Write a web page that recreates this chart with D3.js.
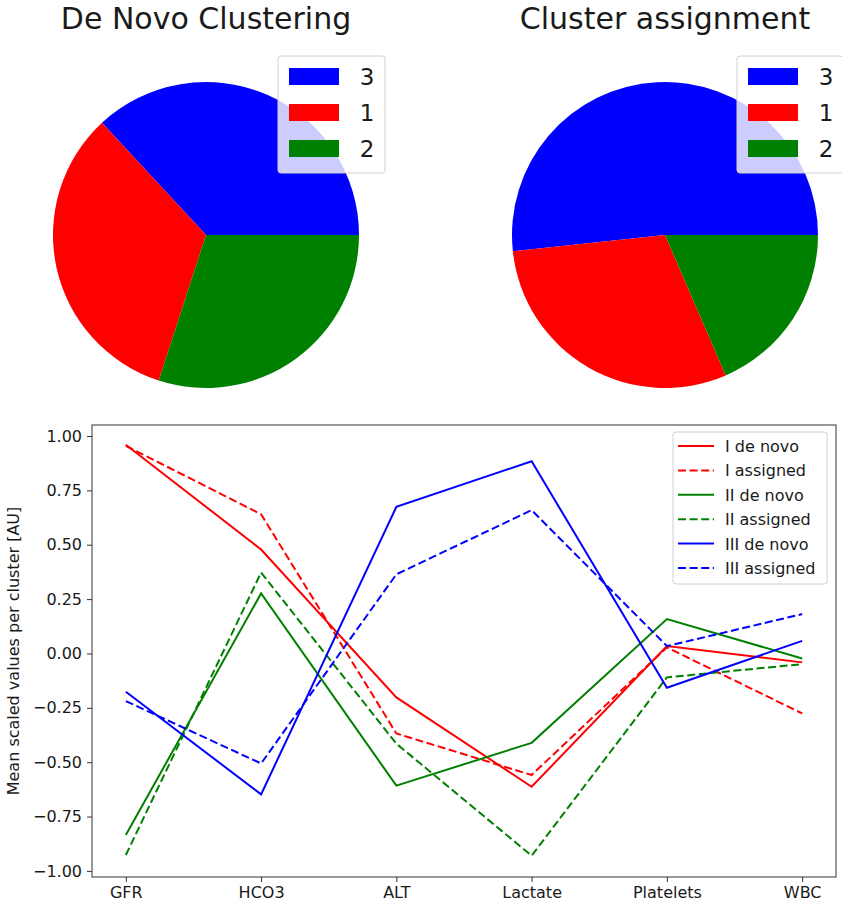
<!DOCTYPE html>
<html>
<head>
<meta charset="utf-8">
<script src="https://d3js.org/d3.v7.min.js"></script>
<style>
    body { margin: 0; background: #fff; }
    text { font-family: "DejaVu Sans", sans-serif; fill: #1a1a1a; }
</style>
</head>
<body>
<div id="main"></div>
<script>
// pie data (share of patients per cluster)
const pieLabels = ["3", "1", "2"];
const pieColors = ["blue", "red", "green"];
const deNovoShares = [0.369, 0.331, 0.300];
const assignedShares = [0.517, 0.298, 0.185];

// line chart data
const features = ["GFR", "HCO3", "ALT", "Lactate", "Platelets", "WBC"];
const yTicks = [-1.00, -0.75, -0.50, -0.25, 0.00, 0.25, 0.50, 0.75, 1.00];
const seriesNames = ["I de novo", "I assigned", "II de novo", "II assigned", "III de novo", "III assigned"];
const seriesColors = ["red", "red", "green", "green", "blue", "blue"];
const seriesDashed = [false, true, false, true, false, true];
const I_denovo = [0.960, 0.478, -0.202, -0.613, 0.034, -0.041];
const I_assigned = [0.955, 0.640, -0.368, -0.559, 0.028, -0.276];
const II_denovo = [-0.835, 0.276, -0.608, -0.411, 0.158, -0.023];
const II_assigned = [-0.927, 0.372, -0.415, -0.930, -0.110, -0.049];
const III_denovo = [-0.176, -0.648, 0.674, 0.884, -0.158, 0.058];
const III_assigned = [-0.219, -0.506, 0.364, 0.659, 0.034, 0.181];
const seriesValues = [I_denovo, I_assigned, II_denovo, II_assigned, III_denovo, III_assigned];

const ctx = {
    svg_w: 842,
    svg_h: 909,

    // pies
    pie_r: 153,
    pie_cy: 235,
    title_y: 29,
    title_size: 30,
    legend_size: 23,

    // line chart
    left: 92,
    right: 836,
    top: 425,
    bottom: 877,
    font_size: 16,
};


function createViz() {
    let svg = d3.select("#main").append("svg")
        .attr("width", ctx.svg_w)
        .attr("height", ctx.svg_h);

    createPie(svg, 206, "De Novo Clustering", deNovoShares, 278, 385);
    createPie(svg, 665, "Cluster assignment", assignedShares, 737, 843);
    createLineChart(svg);
}


function createPie(svg, cx, title, shares, legX1, legX2) {
    let g = svg.append("g").attr("transform", `translate(${cx},${ctx.pie_cy})`);

    // matplotlib style: start at 3 o'clock, counterclockwise
    let pie = d3.pie()
        .sort(null)
        .startAngle(Math.PI / 2)
        .endAngle(Math.PI / 2 - 2 * Math.PI);

    let arc = d3.arc().innerRadius(0).outerRadius(ctx.pie_r);

    g.selectAll("path")
        .data(pie(shares))
        .enter().append("path")
        .attr("d", arc)
        .attr("fill", (d, i) => pieColors[i]);

    svg.append("text")
        .attr("x", cx)
        .attr("y", ctx.title_y)
        .attr("text-anchor", "middle")
        .style("font-size", ctx.title_size + "px")
        .text(title);

    // legend
    let leg = svg.append("g");
    leg.append("rect")
        .attr("x", legX1)
        .attr("y", 56)
        .attr("width", legX2 - legX1)
        .attr("height", 117)
        .attr("rx", 3)
        .attr("fill", "white")
        .attr("fill-opacity", 0.8)
        .attr("stroke", "#d0d0d0")
        .attr("stroke-width", 1);

    let rows = leg.selectAll("g.row")
        .data(pieLabels)
        .enter().append("g")
        .attr("class", "row")
        .attr("transform", (d, i) => `translate(${legX1 + 11},${68 + i * 36})`);

    rows.append("rect")
        .attr("width", 50)
        .attr("height", 17)
        .attr("fill", (d, i) => pieColors[i]);

    rows.append("text")
        .attr("x", 78)
        .attr("y", 17)
        .attr("text-anchor", "middle")
        .style("font-size", ctx.legend_size + "px")
        .text(d => d);
}


function createLineChart(svg) {
    let x = d3.scalePoint()
        .domain(features)
        .range([ctx.left, ctx.right])
        .padding(0.25);

    let y = d3.scaleLinear()
        .domain([-1.028, 1.0506])
        .range([ctx.bottom, ctx.top]);

    let g = svg.append("g");

    let line = d3.line()
        .x((d, i) => x(features[i]))
        .y(d => y(d));

    g.selectAll("path.series")
        .data(seriesValues)
        .enter().append("path")
        .attr("class", "series")
        .attr("d", line)
        .attr("fill", "none")
        .attr("stroke", (d, i) => seriesColors[i])
        .attr("stroke-width", 2)
        .attr("stroke-dasharray", (d, i) => seriesDashed[i] ? "8,3.6" : null);

    // frame
    g.append("rect")
        .attr("x", ctx.left)
        .attr("y", ctx.top)
        .attr("width", ctx.right - ctx.left)
        .attr("height", ctx.bottom - ctx.top)
        .attr("fill", "none")
        .attr("stroke", "#333")
        .attr("stroke-width", 1);

    // axes
    let xAxis = g.append("g")
        .attr("transform", `translate(0,${ctx.bottom})`)
        .call(d3.axisBottom(x).tickSize(5).tickPadding(5));
    let yAxis = g.append("g")
        .attr("transform", `translate(${ctx.left},0)`)
        .call(d3.axisLeft(y).tickValues(yTicks).tickSize(5).tickPadding(5)
            .tickFormat(d => d3.format(".2f")(d).replace("-", "\u2212")));

    [xAxis, yAxis].forEach(a => {
        a.select(".domain").remove();
        a.selectAll("line").attr("stroke", "#333");
        a.selectAll("text")
            .style("font-size", ctx.font_size + "px")
            .style("font-family", "DejaVu Sans")
            .attr("fill", "#1a1a1a");
    });

    svg.append("text")
        .attr("transform", `translate(19,${(ctx.top + ctx.bottom) / 2}) rotate(-90)`)
        .attr("text-anchor", "middle")
        .style("font-size", ctx.font_size + "px")
        .text("Mean scaled values per cluster [AU]");

    // legend
    let leg = svg.append("g").attr("transform", "translate(673,432)");
    leg.append("rect")
        .attr("width", 154)
        .attr("height", 152)
        .attr("rx", 3)
        .attr("fill", "white")
        .attr("fill-opacity", 0.8)
        .attr("stroke", "#d0d0d0");

    let rows = leg.selectAll("g.row")
        .data(seriesNames)
        .enter().append("g")
        .attr("class", "row")
        .attr("transform", (d, i) => `translate(0,${14 + i * 24.4})`);

    rows.append("line")
        .attr("x1", 5)
        .attr("x2", 41)
        .attr("stroke", (d, i) => seriesColors[i])
        .attr("stroke-width", 2)
        .attr("stroke-dasharray", (d, i) => seriesDashed[i] ? "8,3.6" : null);

    rows.append("text")
        .attr("x", 52)
        .attr("y", 6)
        .style("font-size", ctx.font_size + "px")
        .text(d => d);
}

createViz();
</script>
</body>
</html>
